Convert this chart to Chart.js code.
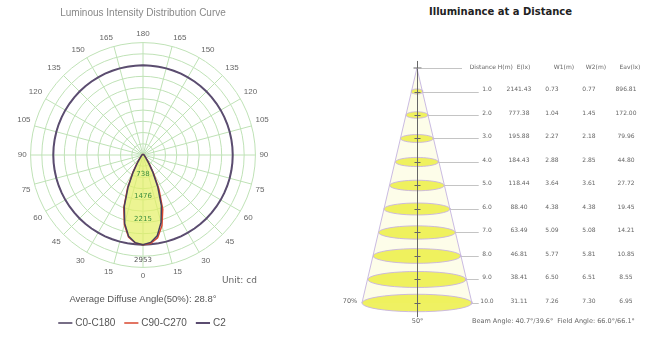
<!DOCTYPE html>
<html>
<head>
<meta charset="utf-8">
<script src="https://cdn.jsdelivr.net/npm/chart.js@4.4.0/dist/chart.umd.min.js"></script>
<style>
  body { margin: 0; background: #fff; font-family: "DejaVu Sans", Arial, sans-serif; }
  #wrap { position: relative; width: 671px; height: 338px; }
  #polarBox { position: absolute; left: 0; top: 0; width: 286px; height: 338px; }
  #coneBox { position: absolute; left: 330px; top: 0; width: 341px; height: 338px; }
  .note { position: absolute; font-size: 9px; color: #666; white-space: nowrap; }
  #coneTitle { position: absolute; left: 330px; top: 6px; width: 341px; text-align: center;
               font-size: 10px; font-weight: bold; color: #222; }
</style>
</head>
<body>
<div id="wrap">
  <div id="polarBox"><canvas id="polar"></canvas></div>
  <div class="note" style="left:222px; top:275px;">Unit: cd</div>
  <div id="coneTitle">Illuminance at a Distance</div>
  <div id="coneBox"><canvas id="cone"></canvas></div>
</div>
<script>
// ---- luminous intensity (cd), gamma 0..180 in 5 deg steps
const polarAngles = [0, 5, 10, 15, 20, 25, 30, 35, 40, 45, 50, 55, 60, 65, 70, 75, 80, 85, 90,
                     95, 100, 105, 110, 115, 120, 125, 130, 135, 140, 145, 150, 155, 160, 165, 170, 175, 180];
const c0   = [2953, 2900, 2720, 2330, 1800, 1160, 640, 340, 190, 128, 95, 76, 62, 54, 48, 43, 39, 36, 33,
              31, 29, 27, 25, 24, 23, 22, 21, 20, 19, 18, 18, 17, 17, 16, 16, 16, 16];
const c180 = [2953, 2890, 2700, 2300, 1770, 1140, 630, 335, 185, 125, 93, 74, 61, 53, 47, 42, 38, 35, 32,
              30, 28, 26, 25, 24, 23, 22, 21, 20, 19, 18, 18, 17, 17, 16, 16, 16, 16];
const c90  = [2953, 2905, 2740, 2370, 1850, 1200, 670, 355, 200, 132, 97, 77, 63, 55, 49, 44, 40, 37, 34,
              32, 30, 28, 26, 25, 24, 23, 22, 21, 20, 19, 18, 18, 17, 17, 16, 16, 16];
const c270 = [2953, 2915, 2770, 2410, 1900, 1240, 690, 365, 205, 135, 98, 78, 64, 55, 49, 44, 40, 37, 34,
              32, 30, 28, 26, 25, 24, 23, 22, 21, 20, 19, 18, 18, 17, 17, 16, 16, 16];
const c2Value = 2953;
const radialLabels = [738, 1476, 2215];
const peakValue = 2953;

// ---- illuminance table
const distances = [1.0, 2.0, 3.0, 4.0, 5.0, 6.0, 7.0, 8.0, 9.0, 10.0];
const eMax  = [2141.43, 777.38, 195.88, 184.43, 118.44, 88.40, 63.49, 46.81, 38.41, 31.11];
const w1    = [0.73, 1.04, 2.27, 2.88, 3.64, 4.38, 5.09, 5.77, 6.50, 7.26];
const w2    = [0.77, 1.45, 2.18, 2.85, 3.61, 4.38, 5.08, 5.81, 6.51, 7.30];
const eAvg  = [896.81, 172.00, 79.96, 44.80, 27.72, 19.45, 14.21, 10.85, 8.55, 6.95];
const headerCols = ['Distance H(m)  E(lx)', 'W1(m)', 'W2(m)', 'Eav(lx)'];
const footerText = 'Beam Angle: 40.7°/39.6°  Field Angle: 66.0°/66.1°';

// ---------- polar chart ----------
const radarLabels = polarAngles.concat(polarAngles.slice(1, 36).reverse()).map(String);
const c0c180 = c0.concat(c180.slice(1, 36).reverse());
const c90c270 = c90.concat(c270.slice(1, 36).reverse());
const c2Ring = radarLabels.map(() => c2Value);

const radialText = {
    id: 'radialText',
    afterDatasetsDraw(chart) {
        const ctx = chart.ctx;
        const r = chart.scales.r;
        ctx.save();
        ctx.font = '7px "DejaVu Sans"';
        ctx.fillStyle = '#3d8f3d';
        ctx.textAlign = 'center';
        ctx.textBaseline = 'bottom';
        radialLabels.forEach(v => {
            const p = r.getPointPositionForValue(0, v);
            ctx.fillText(String(v), p.x, p.y);
        });
        const pk = r.getPointPositionForValue(0, peakValue);
        ctx.fillStyle = '#555';
        ctx.textBaseline = 'top';
        ctx.fillText(String(peakValue), pk.x, pk.y + 12);
        ctx.restore();
    }
};

new Chart(document.getElementById('polar'), {
    type: 'radar',
    data: {
        labels: radarLabels,
        datasets: [
            {
                label: 'C0-C180',
                data: c0c180,
                borderColor: '#4a3e5e',
                backgroundColor: 'rgba(228,240,100,0.7)',
                fill: true,
                borderWidth: 1.5,
                pointRadius: 0
            },
            {
                label: 'C90-C270',
                data: c90c270,
                borderColor: '#d9472f',
                backgroundColor: 'rgba(0,0,0,0)',
                fill: false,
                borderWidth: 1.5,
                pointRadius: 0
            },
            {
                label: 'C2',
                data: c2Ring,
                borderColor: '#5b4c70',
                backgroundColor: 'rgba(0,0,0,0)',
                fill: false,
                borderWidth: 2,
                pointRadius: 0
            }
        ]
    },
    options: {
        responsive: true,
        maintainAspectRatio: false,
        animation: false,
        layout: { padding: { left: 2, right: 2, top: 0, bottom: 0 } },
        scales: {
            r: {
                min: 0,
                max: 3700,
                startAngle: 180,
                ticks: { display: false, stepSize: 370 },
                grid: { circular: true, color: '#bfe2b6' },
                angleLines: {
                    color: ctx => (ctx.index % 3 === 0 ? '#bfe2b6' : 'rgba(0,0,0,0)')
                },
                pointLabels: {
                    font: { size: 8 },
                    color: '#666',
                    padding: 4,
                    callback: (label, i) => (i % 3 === 0 ? label : '')
                }
            }
        },
        plugins: {
            title: {
                display: true,
                text: 'Luminous Intensity Distribution Curve',
                color: '#888',
                font: { size: 10, weight: 'normal' },
                padding: { top: 7, bottom: 10 }
            },
            subtitle: {
                display: true,
                position: 'bottom',
                text: 'Average Diffuse Angle(50%): 28.8°',
                color: '#555',
                font: { size: 9.5 },
                padding: { top: 12, bottom: 2 }
            },
            legend: {
                position: 'bottom',
                weight: 2000,
                labels: {
                    usePointStyle: true,
                    pointStyle: 'line',
                    boxWidth: 30,
                    color: '#555',
                    font: { size: 10 },
                    padding: 11
                }
            },
            tooltip: { enabled: false }
        }
    },
    plugins: [radialText]
});

// ---------- illuminance cone ----------
const ellipseSets = distances.map((d, i) => {
    const a = w2[i] / 2;
    const b = 0.08 + 0.04 * w2[i];
    const pts = [];
    for (let k = 0; k <= 40; k++) {
        const t = k / 40 * Math.PI * 2;
        pts.push({ x: a * Math.cos(t), y: d + b * Math.sin(t) });
    }
    return {
        data: pts,
        showLine: true,
        fill: 'shape',
        borderColor: 'rgba(200,180,224,0.9)',
        backgroundColor: 'rgba(236,238,70,0.85)',
        borderWidth: 1,
        pointRadius: 0,
        order: 1
    };
});

const last = distances.length - 1;
const coneSet = {
    data: [{ x: -w2[last] / 2, y: distances[last] }, { x: 0, y: 0 }, { x: w2[last] / 2, y: distances[last] }],
    showLine: true,
    fill: 'shape',
    borderColor: 'rgba(196,180,224,0.9)',
    backgroundColor: 'rgba(252,252,218,0.6)',
    borderWidth: 1,
    pointRadius: 0,
    order: 2
};

const colX = [157, 189, 222, 259, 296];
const headerX = [170, 234, 266, 300];

const coneText = {
    id: 'coneText',
    beforeDatasetsDraw(chart) {
        const { ctx, scales: { x, y } } = chart;
        ctx.save();
        ctx.strokeStyle = '#b5b5b5';
        ctx.lineWidth = 0.8;
        distances.forEach((d, i) => {
            const py = Math.round(y.getPixelForValue(d)) + 0.5;
            ctx.beginPath();
            ctx.moveTo(x.getPixelForValue(w2[i] / 2), py);
            ctx.lineTo(x.getPixelForValue(4.1), py);
            ctx.stroke();
        });
        ctx.restore();
    },
    afterDatasetsDraw(chart) {
        const { ctx, scales: { x, y } } = chart;
        const x0 = Math.round(x.getPixelForValue(0)) + 0.5;
        const top = y.getPixelForValue(0);
        ctx.save();
        // centre axis
        ctx.strokeStyle = '#666';
        ctx.lineWidth = 1;
        ctx.beginPath();
        ctx.moveTo(x0, y.getPixelForValue(-0.3));
        ctx.lineTo(x0, y.getPixelForValue(10.6));
        ctx.stroke();
        ctx.beginPath();
        ctx.moveTo(x0 - 4, top);
        ctx.lineTo(x0 + 4, top);
        distances.forEach(d => {
            const py = Math.round(y.getPixelForValue(d)) + 0.5;
            ctx.moveTo(x0 - 3, py);
            ctx.lineTo(x0 + 3, py);
        });
        ctx.stroke();
        ctx.strokeStyle = '#b5b5b5';
        ctx.lineWidth = 0.8;
        ctx.beginPath();
        ctx.moveTo(x0, Math.round(top) + 0.5);
        ctx.lineTo(132, Math.round(top) + 0.5);
        ctx.stroke();

        // table
        ctx.font = '6px "DejaVu Sans"';
        ctx.fillStyle = '#666';
        ctx.textAlign = 'center';
        ctx.textBaseline = 'middle';
        headerCols.forEach((h, i) => ctx.fillText(h, headerX[i], top - 1));
        distances.forEach((d, i) => {
            const py = y.getPixelForValue(d) - 2;
            const cells = [d.toFixed(1), eMax[i].toFixed(2), w1[i].toFixed(2), w2[i].toFixed(2), eAvg[i].toFixed(2)];
            cells.forEach((c, j) => ctx.fillText(c, colX[j], py));
        });
        ctx.font = '6.5px "DejaVu Sans"';
        ctx.textAlign = 'left';
        ctx.fillText(footerText, 142, y.getPixelForValue(10.8));
        ctx.textAlign = 'center';
        ctx.fillText('50°', x0, y.getPixelForValue(10.8));
        ctx.fillText('70%', 20, y.getPixelForValue(10) - 2);
        ctx.restore();
    }
};

new Chart(document.getElementById('cone'), {
    type: 'scatter',
    data: { datasets: ellipseSets.concat([coneSet]) },
    options: {
        responsive: true,
        maintainAspectRatio: false,
        animation: false,
        layout: { padding: 0 },
        scales: {
            x: { type: 'linear', min: -5.77, max: 16.86, display: false },
            y: { type: 'linear', reverse: true, min: -2.894, max: 11.49, display: false }
        },
        plugins: {
            legend: { display: false },
            tooltip: { enabled: false }
        }
    },
    plugins: [coneText]
});
</script>
</body>
</html>
